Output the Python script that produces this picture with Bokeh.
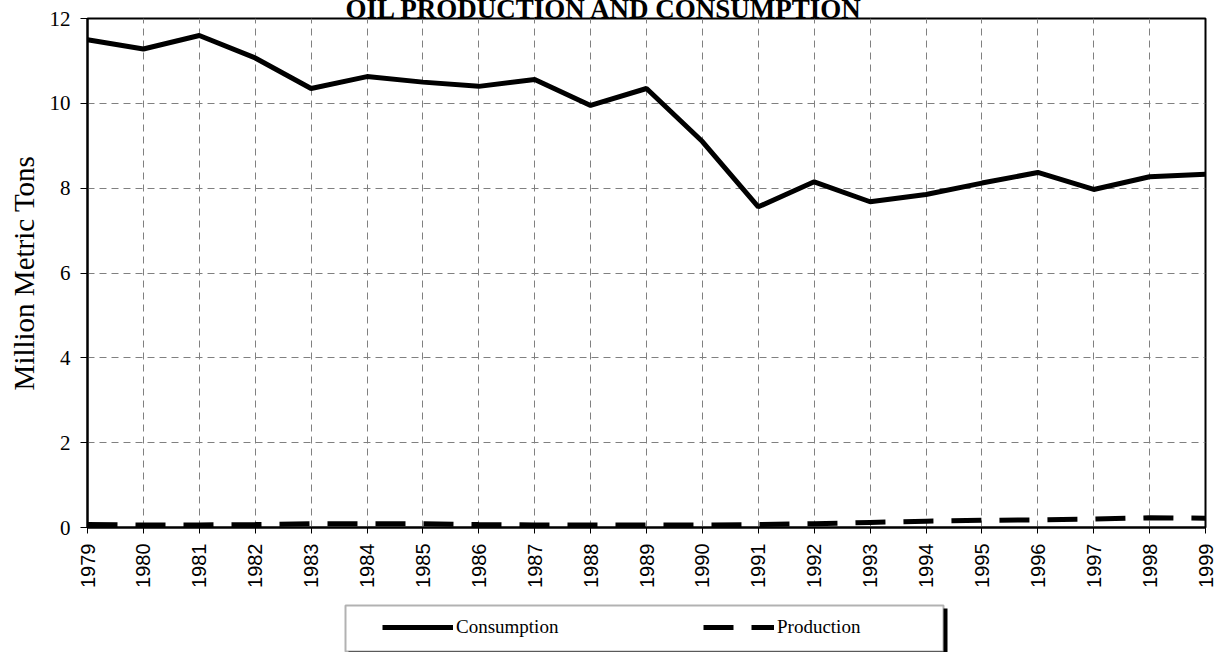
import math
from bokeh.plotting import figure
from bokeh.models import Range1d, FixedTicker, Legend, LegendItem, Title, BoxAnnotation
from bokeh.layouts import column
from bokeh.embed import file_html
from bokeh.resources import INLINE

years = list(range(1979, 2000))
consumption = [11.50, 11.28, 11.60, 11.07, 10.35, 10.63, 10.50, 10.40, 10.56, 9.95, 10.35,
               9.10, 7.56, 8.15, 7.68, 7.85, 8.12, 8.37, 7.97, 8.27, 8.33]
production = [0.07, 0.06, 0.06, 0.07, 0.09, 0.09, 0.09, 0.07, 0.06, 0.06, 0.06,
              0.06, 0.07, 0.09, 0.12, 0.15, 0.17, 0.18, 0.20, 0.23, 0.22]
y_ticks = [0, 2, 4, 6, 8, 10, 12]
title_text = "OIL PRODUCTION AND CONSUMPTION"
y_label = "Million Metric Tons"
series_names = ["Consumption", "Production"]

p = figure(width=1216, height=600, output_backend="svg", toolbar_location=None,
           x_range=Range1d(1979, 1999), y_range=Range1d(0, 12),
           min_border_left=87, min_border_right=11, min_border_top=18, min_border_bottom=73)
p.outline_line_color = "black"
p.outline_line_width = 2

for g in (p.xgrid, p.ygrid):
    g.grid_line_color = "#808080"
    g.grid_line_dash = "7 5"
    g.grid_line_width = 1

p.xaxis.ticker = FixedTicker(ticks=years)
p.yaxis.ticker = FixedTicker(ticks=y_ticks)
for ax in (p.xaxis, p.yaxis):
    ax.axis_line_color = "black"
    ax.axis_line_width = 2
    ax.major_tick_line_color = "black"
    ax.major_tick_line_width = 1
    ax.major_tick_in = 0
    ax.minor_tick_line_color = None
p.xaxis.major_tick_out = 6
p.yaxis.major_tick_out = 7
p.xaxis.major_label_orientation = math.pi / 2
p.xaxis.major_label_text_font = "Liberation Sans"
p.xaxis.major_label_text_font_size = "20px"
p.xaxis.major_label_text_color = "black"
p.xaxis.major_label_standoff = 10
p.yaxis.major_label_text_font = "Liberation Serif"
p.yaxis.major_label_text_font_size = "21px"
p.yaxis.major_label_text_color = "black"
p.yaxis.major_label_standoff = 10
p.yaxis.axis_label = y_label
p.yaxis.axis_label_text_font = "Liberation Serif"
p.yaxis.axis_label_text_font_size = "29px"
p.yaxis.axis_label_text_font_style = "normal"
p.yaxis.axis_label_text_color = "black"
p.yaxis.axis_label_standoff = 7

line_styles = [dict(line_color="black", line_width=5),
               dict(line_color="black", line_width=5, line_dash="30 18")]
p.line(years, consumption, **line_styles[0])
p.line(years, production, **line_styles[1])

title = Title(text=title_text, align="left", offset=258, standoff=-15, vertical_align="top",
              text_font="Liberation Serif", text_font_size="27px",
              text_font_style="bold", text_color="black")
p.add_layout(title, "above")

# legend strip below the chart
pl = figure(width=1216, height=52, output_backend="svg", toolbar_location=None,
            x_range=Range1d(0, 1), y_range=Range1d(0, 1),
            min_border_left=0, min_border_right=0, min_border_top=0, min_border_bottom=0)
pl.axis.visible = False
pl.grid.visible = False
pl.outline_line_color = None
r_leg = [pl.line([float("nan")], [float("nan")], **st) for st in line_styles]

shadow = BoxAnnotation(left=348, right=947, top=8, bottom=56, level="underlay",
                       left_units="canvas", right_units="canvas", top_units="canvas", bottom_units="canvas",
                       fill_color="black", fill_alpha=1, line_color=None)
box = BoxAnnotation(left=345, right=943, top=5, bottom=51, level="underlay",
                    left_units="canvas", right_units="canvas", top_units="canvas", bottom_units="canvas",
                    fill_color="white", fill_alpha=1, line_color="black", line_width=2)
pl.add_layout(shadow)
pl.add_layout(box)

legend = Legend(items=[LegendItem(label=n, renderers=[r]) for n, r in zip(series_names, r_leg)],
                orientation="horizontal", location=(282, 1),
                border_line_alpha=0, background_fill_alpha=0,
                padding=13, spacing=137, glyph_width=71, glyph_height=20,
                label_width=110, label_standoff=3, margin=0,
                label_text_font="Liberation Serif", label_text_font_size="19px",
                label_text_color="black")
pl.add_layout(legend, "center")

layout = column(p, pl, spacing=0)
open("out.html", "w").write(file_html(layout, INLINE))
